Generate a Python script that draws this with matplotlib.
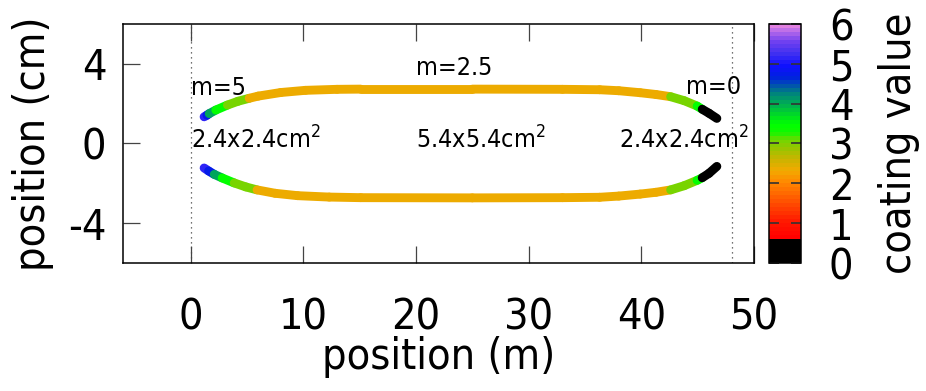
import numpy as np
import matplotlib
matplotlib.use("Agg")
import matplotlib.pyplot as plt
from matplotlib.collections import LineCollection
from matplotlib.colors import LinearSegmentedColormap, Normalize
from matplotlib.cm import ScalarMappable

plt.rcParams['font.family'] = ['DejaVu Sans']
plt.rcParams['font.stretch'] = 'condensed'
plt.rcParams['mathtext.fontset'] = 'dejavusans'
plt.rcParams['axes.unicode_minus'] = False

# track geometry (m, cm)
upper_x = [1.2, 1.45, 1.65, 2.24, 3.27, 4.2, 5.2, 6.0, 8.0, 10.2, 13.0, 15.1, 25.0, 33.0, 36.3, 38.0,
           39.9, 41.3, 42.6, 43.8, 44.95, 45.4, 46.0, 46.7]
upper_y = [1.34, 1.42, 1.5, 1.68, 1.93, 2.12, 2.27, 2.38, 2.56, 2.67, 2.72, 2.73, 2.73, 2.72, 2.70, 2.65,
           2.55, 2.46, 2.35, 2.15, 1.88, 1.72, 1.52, 1.26]
# coating value of each stretch between consecutive points
upper_c = [5.1, 4.8, 4.1, 3.4, 3.05, 3.05, 2.3, 2.3, 2.3, 2.3, 2.3, 2.3, 2.3, 2.3, 2.3, 2.3,
           2.3, 2.3, 3.05, 3.05, 3.4, 0.0, 0.0]

lower_x = [1.2, 1.6, 2.1, 2.8, 3.87, 4.9, 5.9, 7.5, 9.5, 12.3, 15.1, 25.0, 33.0, 36.3, 38.0,
           39.9, 41.3, 42.6, 43.8, 44.95, 45.4, 46.0, 46.7]
lower_y = [-1.23, -1.38, -1.55, -1.73, -1.98, -2.18, -2.33, -2.50, -2.62, -2.69, -2.72, -2.73, -2.72, -2.70, -2.64,
           -2.54, -2.45, -2.33, -2.12, -1.85, -1.72, -1.50, -1.15]
lower_c = [5.1, 4.8, 4.1, 3.4, 3.05, 3.05, 2.3, 2.3, 2.3, 2.3, 2.3, 2.3, 2.3, 2.3,
           2.3, 2.3, 2.3, 3.05, 3.05, 3.4, 0.0, 0.0]

guide_x = [0, 48]

# palette anchors (value, colour) as seen on the colour box
pal_vals = [0.0, 0.55, 0.6, 1.0, 1.5, 2.0, 2.3, 2.6, 2.9, 3.1, 3.3, 3.5, 3.7, 3.9, 4.1, 4.3, 4.5, 4.7, 5.0, 5.3, 5.6, 5.9, 6.0]
pal_cols = ['#000000', '#000000', '#ff0000', '#ff1800', '#ff5000', '#ff8800', '#f2aa00', '#c8b400',
            '#90c800', '#70d800', '#10f800', '#00ff00', '#00e020', '#00c040', '#00a060', '#008080',
            '#0050b0', '#0020e0', '#1010ff', '#4030f0', '#7040f0', '#c070e8', '#e080e0']
cmap = LinearSegmentedColormap.from_list('coat', list(zip(np.array(pal_vals) / 6.0, pal_cols)), N=60)
norm = Normalize(0, 6)

fig = plt.figure(figsize=(9.26, 3.91), dpi=100)
ax = fig.add_axes([0.1328, 0.3274, 0.6815, 0.6112])
cax = fig.add_axes([0.8305, 0.3274, 0.0346, 0.6112])

for xs, ys, cs in [(upper_x, upper_y, upper_c), (lower_x, lower_y, lower_c)]:
    pts = np.column_stack([xs, ys])
    segs = np.stack([pts[:-1], pts[1:]], axis=1)
    lc = LineCollection(segs, cmap=cmap, norm=norm, linewidths=6.4, capstyle='round', joinstyle='round')
    lc.set_array(np.array(cs))
    ax.add_collection(lc)

for gx in guide_x:
    ax.axvline(gx, color='#444444', lw=0.9, ls=(0, (1, 3)), zorder=0)

fs_txt = 18
ax.text(0, 2.8, 'm=5', fontsize=fs_txt, va='center', ha='left')
ax.text(20, 3.8, 'm=2.5', fontsize=fs_txt, va='center', ha='left')
ax.text(44, 2.85, 'm=0', fontsize=fs_txt, va='center', ha='left')
ax.text(0, 0.2, '2.4x2.4cm$^2$', fontsize=fs_txt, va='center', ha='left')
ax.text(20, 0.2, '5.4x5.4cm$^2$', fontsize=fs_txt, va='center', ha='left')
ax.text(38, 0.2, '2.4x2.4cm$^2$', fontsize=fs_txt, va='center', ha='left')

fs = 31
ax.set_xlim(-6, 50)
ax.set_ylim(-6, 6)
ax.set_xticks([0, 10, 20, 30, 40, 50])
ax.set_yticks([-4, 0, 4])
ax.tick_params(direction='in', length=12, width=0.9, color='#444444', top=True, right=False,
               labelsize=fs)
ax.tick_params(axis='x', pad=24)
ax.tick_params(axis='y', pad=12)
for s in ax.spines.values():
    s.set_linewidth(1.1)
ax.set_xlabel('position (m)', fontsize=fs, labelpad=-2)
ax.set_ylabel('position (cm)', fontsize=fs, labelpad=10)

cb = fig.colorbar(ScalarMappable(norm=norm, cmap=cmap), cax=cax)
cb.set_ticks([0, 1, 2, 3, 4, 5, 6])
cb.outline.set_linewidth(1.1)
cax.tick_params(direction='in', length=7, width=1.2, color='#333333', left=True, right=True,
                labelleft=False, labelright=True, labelsize=fs, pad=20)
cb.set_label('coating value', fontsize=fs, labelpad=18)

fig.savefig('out.png', dpi=100)
